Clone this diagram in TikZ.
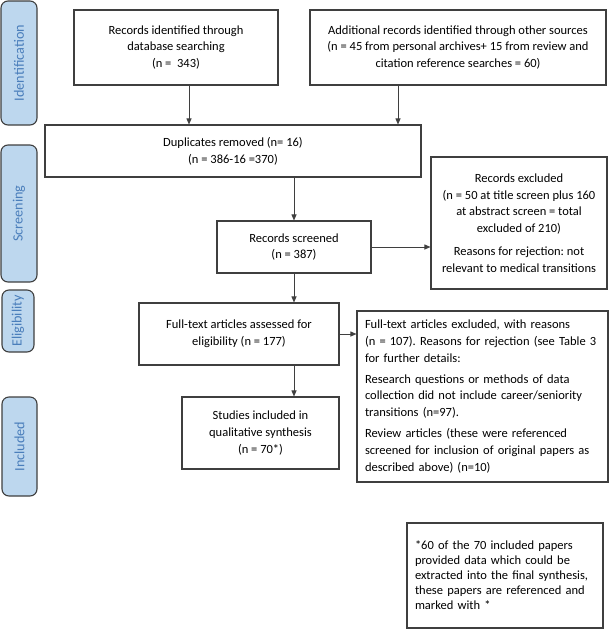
\documentclass[tikz,border=0pt]{standalone}
\usepackage{fontspec}
\setmainfont{Carlito}
\usetikzlibrary{arrows.meta}
\definecolor{bord}{HTML}{3F3F3F}
\definecolor{sidefill}{HTML}{BDD7EE}
\definecolor{sidetext}{HTML}{4A7EBB}
\frenchspacing
\begin{document}
\begin{tikzpicture}[x=1pt,y=-1pt,
  box/.style={draw=bord, line width=1.1pt, rectangle, inner sep=0pt, align=center,
    font=\fontsize{12.5}{16.8}\selectfont},
  lbox/.style={box, align=left},
  side/.style={draw=bord, fill=sidefill, line width=1.1pt, rounded corners=7pt,
    rectangle, inner sep=0pt, rotate=90, text=sidetext,
    font=\fontsize{14.2}{16}\selectfont},
  arr/.style={draw=bord, line width=0.9pt, -{Triangle[length=6pt,width=5pt]}}]
\useasboundingbox (0,0) rectangle (610,630);
% phase labels
\node[side, minimum width=124pt, minimum height=36pt] (sid) at (19,63) {Identification};
\node[side, minimum width=137pt, minimum height=36pt] (sscr) at (19,213.5) {Screening};
\node[side, minimum width=62pt, minimum height=32pt] (seli) at (18,321) {Eligibility};
\node[side, minimum width=99pt, minimum height=35pt] (sinc) at (19.5,446.5) {Included};
% boxes
\node[box, minimum width=204pt, minimum height=75pt] (a) at (176,47.5)
  {Records identified through\\database searching\\(n =\ \ 343)};
\node[box, minimum width=296pt, minimum height=75pt] (b) at (458,47.5)
  {Additional records identified through other sources\\(n = 45 from personal archives+ 15 from review and\\citation reference searches = 60)};
\node[box, minimum width=376pt, minimum height=52pt] (c) at (233,151)
  {Duplicates removed (n= 16)\\(n = 386-16 =370)};
\node[box, minimum width=154pt, minimum height=52pt] (d) at (294,247)
  {Records screened\\(n = 387)};
\node[box, minimum width=176pt, minimum height=132pt] (e) at (519,223)
  {Records excluded\\(n = 50 at title screen plus 160\\at abstract screen = total\\excluded of 210)\\[6pt]Reasons for rejection: not\\relevant to medical transitions};
\node[box, minimum width=200pt, minimum height=62pt] (f) at (239,334)
  {Full-text articles assessed for\\eligibility (n = 177)};
\node[lbox, text width=235pt, inner xsep=8pt, minimum height=171pt] (g) at (482.5,396.5)
  {Full-text articles excluded, with reasons\\(n = 107). Reasons for rejection (see Table 3\\for further details:\\[4pt]Research questions or methods of data\\collection did not include career/seniority\\transitions (n=97).\\[4pt]Review articles (these were referenced\\screened for inclusion of original papers as\\described above) (n=10)};
\node[box, minimum width=157pt, minimum height=72pt] (h) at (260.5,433)
  {Studies included in\\qualitative synthesis\\(n = 70*)};
\node[lbox, text width=180pt, inner xsep=8pt, minimum height=105pt,
  font=\fontsize{12.5}{15}\selectfont] (i) at (505,575.5)
  {*60 of the 70 included papers\\provided data which could be\\extracted into the final synthesis,\\these papers are referenced and\\marked with *};
% arrow positions
\coordinate (ax) at (189,0);
\coordinate (bx) at (398,0);
\draw[arr] (a.south -| ax) -- (c.north -| ax);
\draw[arr] (b.south -| bx) -- (c.north -| bx);
\draw[arr] (c.south -| d.north) -- (d.north);
\draw[arr] (d.east) -- (e.west |- d.east);
\draw[arr] (d.south) -- (f.north -| d.south);
\draw[arr] (f.east) -- (g.west |- f.east);
\draw[arr] (f.south -| d.south) -- (h.north -| d.south);
\end{tikzpicture}
\end{document}
